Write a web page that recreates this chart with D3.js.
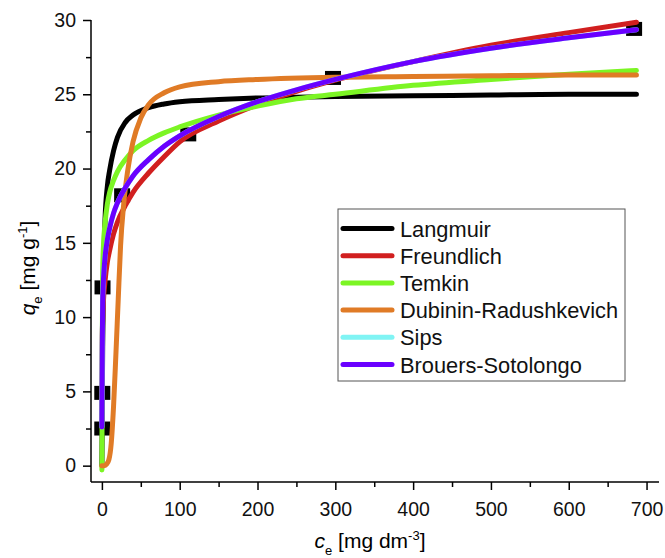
<!DOCTYPE html>
<html>
<head>
<meta charset="utf-8">
<script src="https://cdn.jsdelivr.net/npm/d3@7"></script>
<style>
  body { margin: 0; background: #fff; }
  text { font-family: "Liberation Sans", Arial, sans-serif; }
</style>
</head>
<body>
<div id="chart"></div>
<script>
// grid of ce values the fitted curves were read at
const cGrid = [0, 0.5, 1, 2, 4, 7, 10, 15, 20, 30, 40, 60, 80, 100, 150, 200, 250, 300, 400, 500, 600, 687];
const langmuir = [0, 4, 8, 12, 16.5, 18.8, 19.9, 21.2, 22.1, 23.1, 23.6, 24.1, 24.35, 24.5, 24.65, 24.75, 24.8, 24.85, 24.9, 24.95, 25.0, 25.0];
const freundlich = [3.0, 8.7, 9.8, 11.1, 12.4, 13.7, 14.5, 15.6, 16.4, 17.5, 18.4, 19.7, 20.8, 21.8, 23.2, 24.3, 25.2, 25.95, 27.2, 28.3, 29.15, 29.85];
const temkin = [-0.3, 8, 13, 14.8, 16.3, 17.6, 18.4, 19.2, 19.8, 20.6, 21.2, 21.9, 22.4, 22.8, 23.6, 24.2, 24.7, 25.0, 25.6, 26.0, 26.35, 26.6];
const sips = [2.6, 8, 11, 12.5, 14.0, 15.2, 16.0, 17.0, 17.7, 18.7, 19.5, 20.6, 21.5, 22.2, 23.5, 24.5, 25.3, 26.0, 27.2, 28.1, 28.8, 29.35];
const brouers = [2.6, 8, 11, 12.5, 14.0, 15.2, 16.0, 17.0, 17.7, 18.7, 19.5, 20.6, 21.5, 22.2, 23.5, 24.5, 25.3, 26.0, 27.2, 28.1, 28.8, 29.35];
// Dubinin-Radushkevich has its own grid (the sigmoid near the origin)
const cDR = [0, 3, 6, 9, 12, 15, 18, 21, 24, 28, 33, 40, 50, 60, 80, 100, 150, 200, 300, 400, 500, 600, 687];
const dubinin = [0, 0, 0.1, 0.4, 1.5, 4.0, 7.5, 11.2, 14.8, 17.6, 19.8, 21.8, 23.4, 24.3, 25.1, 25.5, 25.85, 26.0, 26.15, 26.2, 26.25, 26.3, 26.3];

// experimental points
const expC = [0.5, 0.5, 0.8, 26, 111, 297, 684];
const expQ = [2.5, 4.9, 12.0, 18.2, 22.3, 26.1, 29.4];

const xTicks = [0, 100, 200, 300, 400, 500, 600, 700];
const yTicks = [0, 5, 10, 15, 20, 25, 30];

const seriesNames = ["Langmuir", "Freundlich", "Temkin", "Dubinin-Radushkevich", "Sips", "Brouers-Sotolongo"];
const seriesColors = ["#000000", "#d11f1f", "#7cf524", "#e07b26", "#80f4f4", "#6a00ff"];

const width = 665, height = 558;
const svg = d3.select("#chart").append("svg")
  .attr("width", width)
  .attr("height", height);

const x = d3.scaleLinear().domain([-14, 716]).range([91, 659]);
const y = d3.scaleLinear().domain([-1.1, 30]).range([482, 20]);

// experimental squares sit under the curves
svg.append("g")
  .selectAll("rect")
  .data(expC.map((c, i) => [c, expQ[i]]))
  .join("rect")
    .attr("x", d => x(d[0]) - 8)
    .attr("y", d => y(d[1]) - 7)
    .attr("width", 16)
    .attr("height", 14)
    .attr("fill", "#000");

const line = d3.line()
  .x(d => x(d[0]))
  .y(d => y(d[1]))
  .curve(d3.curveMonotoneX);

const curves = [
  cGrid.map((c, i) => [c, langmuir[i]]),
  cGrid.map((c, i) => [c, freundlich[i]]),
  cGrid.map((c, i) => [c, temkin[i]]),
  cDR.map((c, i) => [c, dubinin[i]]),
  cGrid.map((c, i) => [c, sips[i]]),
  cGrid.map((c, i) => [c, brouers[i]])
];

svg.append("g")
  .selectAll("path")
  .data(curves)
  .join("path")
    .attr("d", line)
    .attr("fill", "none")
    .attr("stroke", (d, i) => seriesColors[i])
    .attr("stroke-width", 5)
    .attr("stroke-linecap", "round")
    .attr("stroke-linejoin", "round");

// axes
const xAxis = svg.append("g")
  .attr("transform", `translate(0,482)`)
  .call(d3.axisBottom(x).tickValues(xTicks).tickSize(8).tickPadding(12));
svg.append("g")
  .attr("transform", `translate(0,482)`)
  .call(d3.axisBottom(x).tickValues(d3.range(50, 700, 100)).tickSize(5).tickFormat(""))
  .call(g => g.select(".domain").remove());

const yAxis = svg.append("g")
  .attr("transform", `translate(91,0)`)
  .call(d3.axisLeft(y).tickValues(yTicks).tickSize(8).tickPadding(7));
svg.append("g")
  .attr("transform", `translate(91,0)`)
  .call(d3.axisLeft(y).tickValues(d3.range(2.5, 30, 5)).tickSize(5).tickFormat(""))
  .call(g => g.select(".domain").remove());

xAxis.select(".domain").attr("d", `M91,0H659`);
yAxis.select(".domain").attr("d", `M0,482V20`);
svg.selectAll(".tick line, .domain").attr("stroke", "#000").attr("stroke-width", 1.5);
svg.selectAll(".tick text").attr("font-size", 19.5).attr("fill", "#111")
  .attr("font-family", "'Liberation Sans', Arial, sans-serif");

// axis titles
const xt = svg.append("text")
  .attr("x", 370).attr("y", 548)
  .attr("text-anchor", "middle")
  .attr("font-size", 21);
xt.append("tspan").attr("font-style", "italic").text("c");
xt.append("tspan").attr("font-size", 13).attr("dy", 7).text("e");
xt.append("tspan").attr("dy", -7).text(" [mg dm");
xt.append("tspan").attr("font-size", 13).attr("dy", -8).text("-3");
xt.append("tspan").attr("dy", 8).text("]");

const yt = svg.append("text")
  .attr("transform", "translate(35,268) rotate(-90)")
  .attr("text-anchor", "middle")
  .attr("font-size", 21);
yt.append("tspan").attr("font-style", "italic").text("q");
yt.append("tspan").attr("font-size", 13).attr("dy", 7).text("e");
yt.append("tspan").attr("dy", -7).text(" [mg g");
yt.append("tspan").attr("font-size", 13).attr("dy", -8).text("-1");
yt.append("tspan").attr("dy", 8).text("]");

// legend
const legend = svg.append("g").attr("transform", "translate(338,209)");
legend.append("rect")
  .attr("width", 287).attr("height", 172)
  .attr("fill", "#fff").attr("stroke", "#555").attr("stroke-width", 1);
const items = legend.selectAll("g.item")
  .data(seriesNames)
  .join("g")
    .attr("class", "item")
    .attr("transform", (d, i) => `translate(0,${19.5 + i * 27.2})`);
items.append("line")
  .attr("x1", 5).attr("x2", 54)
  .attr("stroke", (d, i) => seriesColors[i])
  .attr("stroke-width", 5)
  .attr("stroke-linecap", "round");
items.append("text")
  .attr("x", 62).attr("y", 8)
  .attr("font-size", 21.8)
  .attr("fill", "#111")
  .text(d => d);
</script>
</body>
</html>
